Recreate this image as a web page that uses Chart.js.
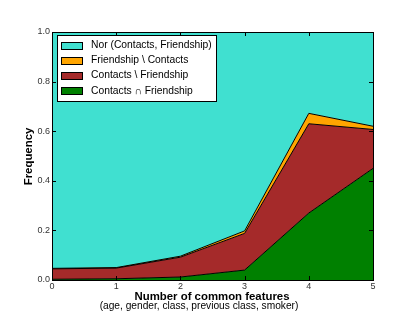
<!DOCTYPE html>
<html>
<head>
<meta charset="utf-8">
<script src="https://cdn.jsdelivr.net/npm/chart.js@4.4.0/dist/chart.umd.min.js"></script>
<style>
  html, body { margin: 0; padding: 0; background: #fff; }
  #wrap { width: 415px; height: 312px; position: relative; }
</style>
</head>
<body>
<div id="wrap"><canvas id="c" width="415" height="312"></canvas></div>
<script>
// ---- data ----
const categories = [0, 1, 2, 3, 4, 5];
const contactsAndFriendship = [0.003, 0.005, 0.012, 0.040, 0.270, 0.450];
const contactsNotFriendship = [0.042, 0.043, 0.080, 0.148, 0.360, 0.157];
const friendshipNotContacts = [0.002, 0.002, 0.004, 0.010, 0.042, 0.013];
const neither = [0.953, 0.950, 0.904, 0.802, 0.328, 0.380];
const yTicks = [0.0, 0.2, 0.4, 0.6, 0.8, 1.0];
const xTicks = [0, 1, 2, 3, 4, 5];
const seriesLabels = ['Contacts \u2229 Friendship', 'Contacts \\ Friendship', 'Friendship \\ Contacts', 'Nor (Contacts, Friendship)'];
const xTitle = 'Number of common features';
const xSubtitle = '(age, gender, class, previous class, smoker)';
const yTitle = 'Frequency';

const colors = ['#008000', '#A52A2A', '#FFA500', '#40E0D0'];
const seriesData = [contactsAndFriendship, contactsNotFriendship, friendshipNotContacts, neither];

const datasets = seriesData.map((d, i) => ({
  label: seriesLabels[i],
  data: d.map((v, j) => ({x: categories[j], y: v})),
  backgroundColor: colors[i],
  borderColor: '#000',
  borderWidth: 1,
  pointRadius: 0,
  tension: 0,
  fill: i === 0 ? 'origin' : '-1'
}));

const FONT = 'Liberation Sans, Arial, sans-serif';

const decor = {
  id: 'decor',
  afterDraw(chart) {
    const ctx = chart.ctx;
    const a = chart.chartArea;
    const xs = chart.scales.x, ys = chart.scales.y;
    ctx.save();
    // frame
    ctx.strokeStyle = '#000';
    ctx.lineWidth = 1;
    ctx.strokeRect(Math.round(a.left) + 0.5, Math.round(a.top) + 0.5, Math.round(a.right - a.left), Math.round(a.bottom - a.top));
    // inward ticks
    ctx.beginPath();
    xTicks.forEach(t => {
      const px = Math.round(xs.getPixelForValue(t)) + 0.5;
      ctx.moveTo(px, a.bottom); ctx.lineTo(px, a.bottom - 4);
      ctx.moveTo(px, a.top); ctx.lineTo(px, a.top + 4);
    });
    yTicks.forEach(t => {
      const py = Math.round(ys.getPixelForValue(t)) + 0.5;
      ctx.moveTo(a.left, py); ctx.lineTo(a.left + 4, py);
      ctx.moveTo(a.right, py); ctx.lineTo(a.right - 4, py);
    });
    ctx.stroke();
    // tick labels
    ctx.fillStyle = '#333';
    ctx.font = '9px ' + FONT;
    ctx.textAlign = 'center'; ctx.textBaseline = 'top';
    xTicks.forEach(t => ctx.fillText(String(t), xs.getPixelForValue(t), a.bottom + 2));
    ctx.textAlign = 'right'; ctx.textBaseline = 'middle';
    yTicks.forEach(t => ctx.fillText(t.toFixed(1), a.left - 2, ys.getPixelForValue(t)));
    // axis titles
    ctx.fillStyle = '#000';
    ctx.font = 'bold 11.4px ' + FONT;
    ctx.textAlign = 'center'; ctx.textBaseline = 'alphabetic';
    ctx.fillText(xTitle, 212, 300);
    ctx.font = '10.2px ' + FONT;
    ctx.fillText(xSubtitle, 199, 309);
    ctx.save();
    ctx.translate(32, 156.5);
    ctx.rotate(-Math.PI / 2);
    ctx.font = 'bold 11.4px ' + FONT;
    ctx.textBaseline = 'alphabetic';
    ctx.fillText(yTitle, 0, 0);
    ctx.restore();
    // legend (top to bottom: reverse order)
    const lx = 57, ly = 35, lw = 159, lh = 66;
    ctx.fillStyle = '#fff';
    ctx.fillRect(lx, ly, lw, lh);
    ctx.strokeStyle = '#000';
    ctx.strokeRect(lx + 0.5, ly + 0.5, lw, lh);
    ctx.font = '10.3px ' + FONT;
    ctx.textAlign = 'left'; ctx.textBaseline = 'middle';
    for (let k = 0; k < 4; k++) {
      const i = 3 - k;
      const cy = 45 + k * 15.3;
      ctx.fillStyle = colors[i];
      ctx.fillRect(61, Math.round(cy - 3.5), 21, 7);
      ctx.strokeStyle = '#000';
      ctx.strokeRect(61.5, Math.round(cy - 3.5) + 0.5, 21, 7);
      ctx.fillStyle = '#000';
      ctx.fillText(seriesLabels[i], 91, cy);
    }
    ctx.restore();
  }
};

new Chart(document.getElementById('c'), {
  type: 'line',
  data: { datasets },
  options: {
    responsive: false,
    animation: false,
    events: [],
    layout: { padding: { left: 0, right: 42, top: 32, bottom: 0 } },
    plugins: { legend: { display: false }, tooltip: { enabled: false }, filler: { propagate: false } },
    scales: {
      x: {
        type: 'linear', min: 0, max: 5,
        grid: { display: false, drawTicks: false },
        border: { display: false },
        ticks: { display: false },
        afterFit(s) { s.height = 32; }
      },
      y: {
        stacked: true, min: 0, max: 1,
        grid: { display: false, drawTicks: false },
        border: { display: false },
        ticks: { display: false },
        afterFit(s) { s.width = 52; }
      }
    }
  },
  plugins: [decor]
});
</script>
</body>
</html>
